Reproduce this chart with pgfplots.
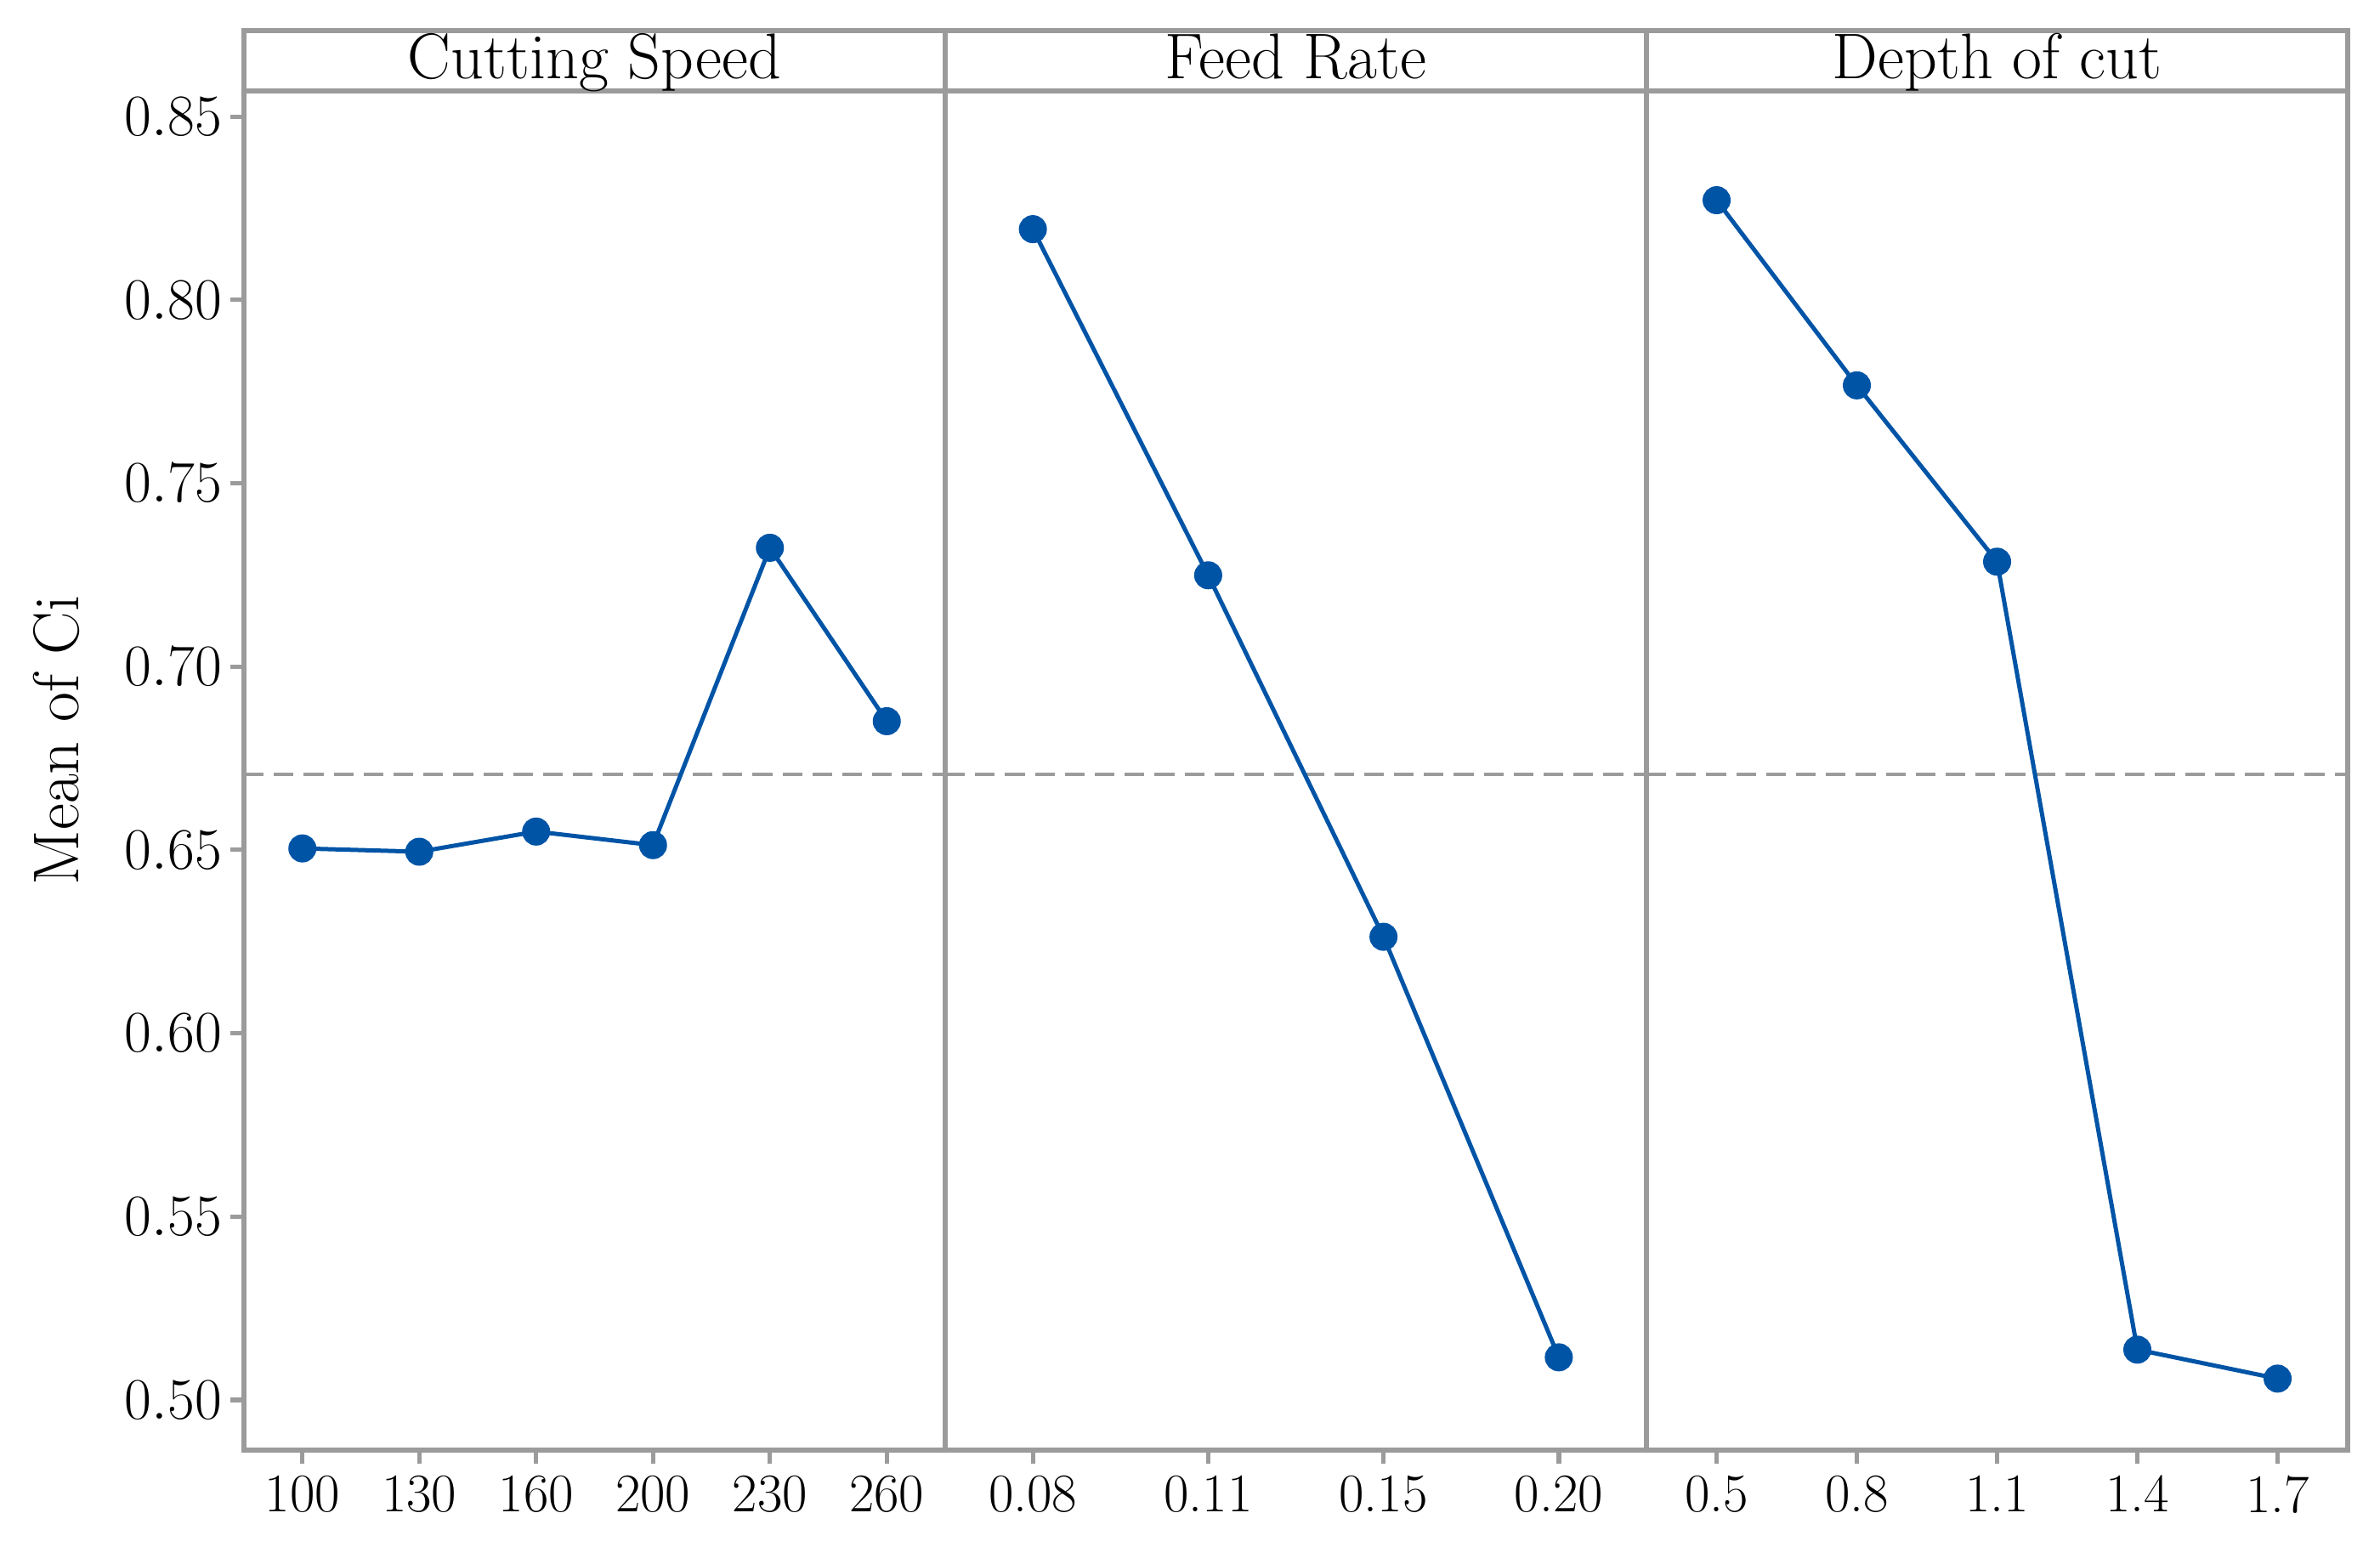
\documentclass[border=0pt]{standalone}
\usepackage{pgfplots}
\pgfplotsset{compat=1.18}
\usetikzlibrary{calc}
\definecolor{framegray}{RGB}{155,155,155}
\definecolor{mainblue}{RGB}{0,84,166}

% one panel of the main effects plot
\pgfplotsset{
  mep/.style={
    scale only axis, width=206.25pt, height=399.75pt,
    ymin=0.4863, ymax=0.857,
    axis line style={framegray, line width=1.3pt},
    tick style={framegray, line width=1.3pt},
    tick align=outside, major tick length=4pt,
    xtick pos=bottom, ytick pos=left,
    tick label style={font=\fontsize{16}{19}\selectfont},
  },
  eff/.style={mainblue, line width=1.25pt, mark=*, mark size=3.5pt,
    mark options={mainblue}},
  meanline/.style={framegray, line width=1pt, dash pattern=on 5.8pt off 3pt},
}
\def\grandmean{0.6705}

\begin{document}
\begin{tikzpicture}
\begin{axis}[mep, name=a1, at={(0,0)}, anchor=south west,
  xmin=-0.5, xmax=5.5, xtick={0,1,2,3,4,5},
  xticklabels={100,130,160,200,230,260},
  ytick={0.50,0.55,0.60,0.65,0.70,0.75,0.80,0.85},
  yticklabel style={/pgf/number format/fixed, /pgf/number format/precision=2,
    /pgf/number format/fixed zerofill, xshift=1pt}]
  \addplot[meanline] coordinates {(-0.5,\grandmean) (5.5,\grandmean)};
  \addplot[eff] coordinates {
    (0,0.6504) (1,0.6495) (2,0.6550) (3,0.6513) (4,0.7324) (5,0.6851)};
\end{axis}
\begin{axis}[mep, name=a2, at={(a1.south east)}, anchor=south west,
  xmin=-0.5, xmax=3.5, xtick={0,1,2,3}, ytick=\empty,
  xticklabels={0.08,0.11,0.15,0.20}]
  \addplot[meanline] coordinates {(-0.5,\grandmean) (3.5,\grandmean)};
  \addplot[eff] coordinates {
    (0,0.8193) (1,0.7249) (2,0.6263) (3,0.5116)};
\end{axis}
\begin{axis}[mep, name=a3, at={(a2.south east)}, anchor=south west,
  xmin=-0.5, xmax=4.5, xtick={0,1,2,3,4}, ytick=\empty,
  xticklabels={0.5,0.8,1.1,1.4,1.7}]
  \addplot[meanline] coordinates {(-0.5,\grandmean) (4.5,\grandmean)};
  \addplot[eff] coordinates {
    (0,0.8272) (1,0.7767) (2,0.7286) (3,0.5137) (4,0.5058)};
\end{axis}

% header strip
\draw[framegray, line width=1.3pt] (a1.north west) rectangle ($(a3.north east)+(0,17.75pt)$);
\draw[framegray, line width=1.3pt] (a1.north east) -- ++(0,17.75pt);
\draw[framegray, line width=1.3pt] (a2.north east) -- ++(0,17.75pt);
\foreach \ax/\ttl in {a1/Cutting Speed, a2/Feed Rate, a3/Depth of cut}
  \node[anchor=base, inner sep=0pt, font=\fontsize{19}{22}\selectfont]
    at ($(\ax.north)+(0,3.5pt)$) {\ttl};

\node[rotate=90, font=\fontsize{19}{22}\selectfont]
  at ($(a1.south west)+(-55.25pt,208.75pt)$) {Mean of Ci};

\pgfresetboundingbox
\path[use as bounding box] ($(a1.south west)+(-71.75pt,-28.25pt)$) rectangle ++(700pt,454.75pt);
\end{tikzpicture}
\end{document}
